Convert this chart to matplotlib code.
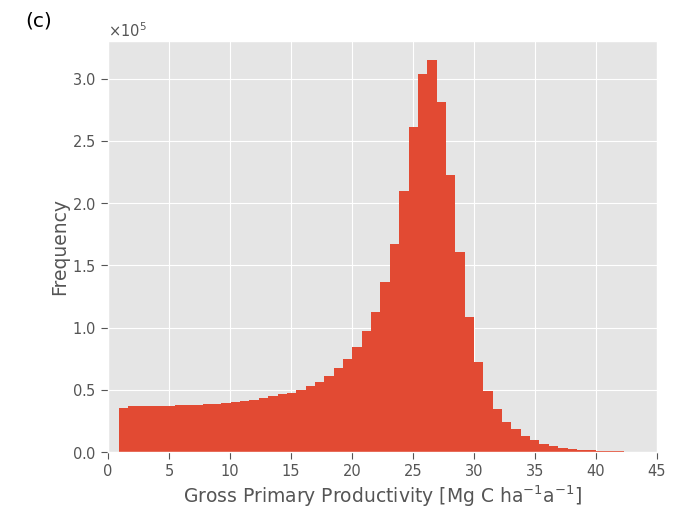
import numpy as np
import matplotlib
matplotlib.use("Agg")
import matplotlib.pyplot as plt
from matplotlib.ticker import ScalarFormatter

plt.style.use("ggplot")

# Histogram bins for GPP (Mg C ha^-1 a^-1)
bin_start = 0.85
bin_width = 0.767
counts = np.array([
    0.357, 0.368, 0.370, 0.371, 0.372, 0.373, 0.375, 0.379, 0.381, 0.386,
    0.389, 0.393, 0.400, 0.410, 0.422, 0.435, 0.450, 0.463, 0.478, 0.497,
    0.528, 0.563, 0.608, 0.677, 0.745, 0.848, 0.976, 1.128, 1.363, 1.670,
    2.096, 2.608, 3.037, 3.146, 2.810, 2.224, 1.608, 1.088, 0.723, 0.491,
    0.345, 0.243, 0.184, 0.128, 0.096, 0.069, 0.050, 0.037, 0.027, 0.021,
    0.016, 0.012, 0.008, 0.005,
]) * 1e5

edges = bin_start + bin_width * np.arange(len(counts) + 1)

fig = plt.figure(figsize=(6.89, 5.08), dpi=100)
fig.patch.set_facecolor("white")
ax = fig.add_axes([0.157, 0.110, 0.7965, 0.809])

ax.hist(edges[:-1], bins=edges, weights=counts, color="#E24A33")

ax.set_xlim(0, 45)
ax.set_ylim(0, 3.3e5)
ax.set_xticks(np.arange(0, 46, 5))
ax.set_yticks(np.arange(0, 3.01e5, 0.5e5))

fmt = ScalarFormatter(useMathText=True)
fmt.set_powerlimits((0, 0))
ax.yaxis.set_major_formatter(fmt)
ax.yaxis.get_offset_text().set_fontsize(10.5)

ax.tick_params(labelsize=10.5, length=5)
ax.set_xlabel(r"Gross Primary Productivity [Mg C ha$^{-1}$a$^{-1}$]", fontsize=13.5, labelpad=3)
ax.set_ylabel("Frequency", fontsize=13.5, labelpad=2)

fig.text(0.036, 0.958, "(c)", fontsize=14.5, color="black", ha="left", va="center")

fig.savefig("out.png", dpi=100)
